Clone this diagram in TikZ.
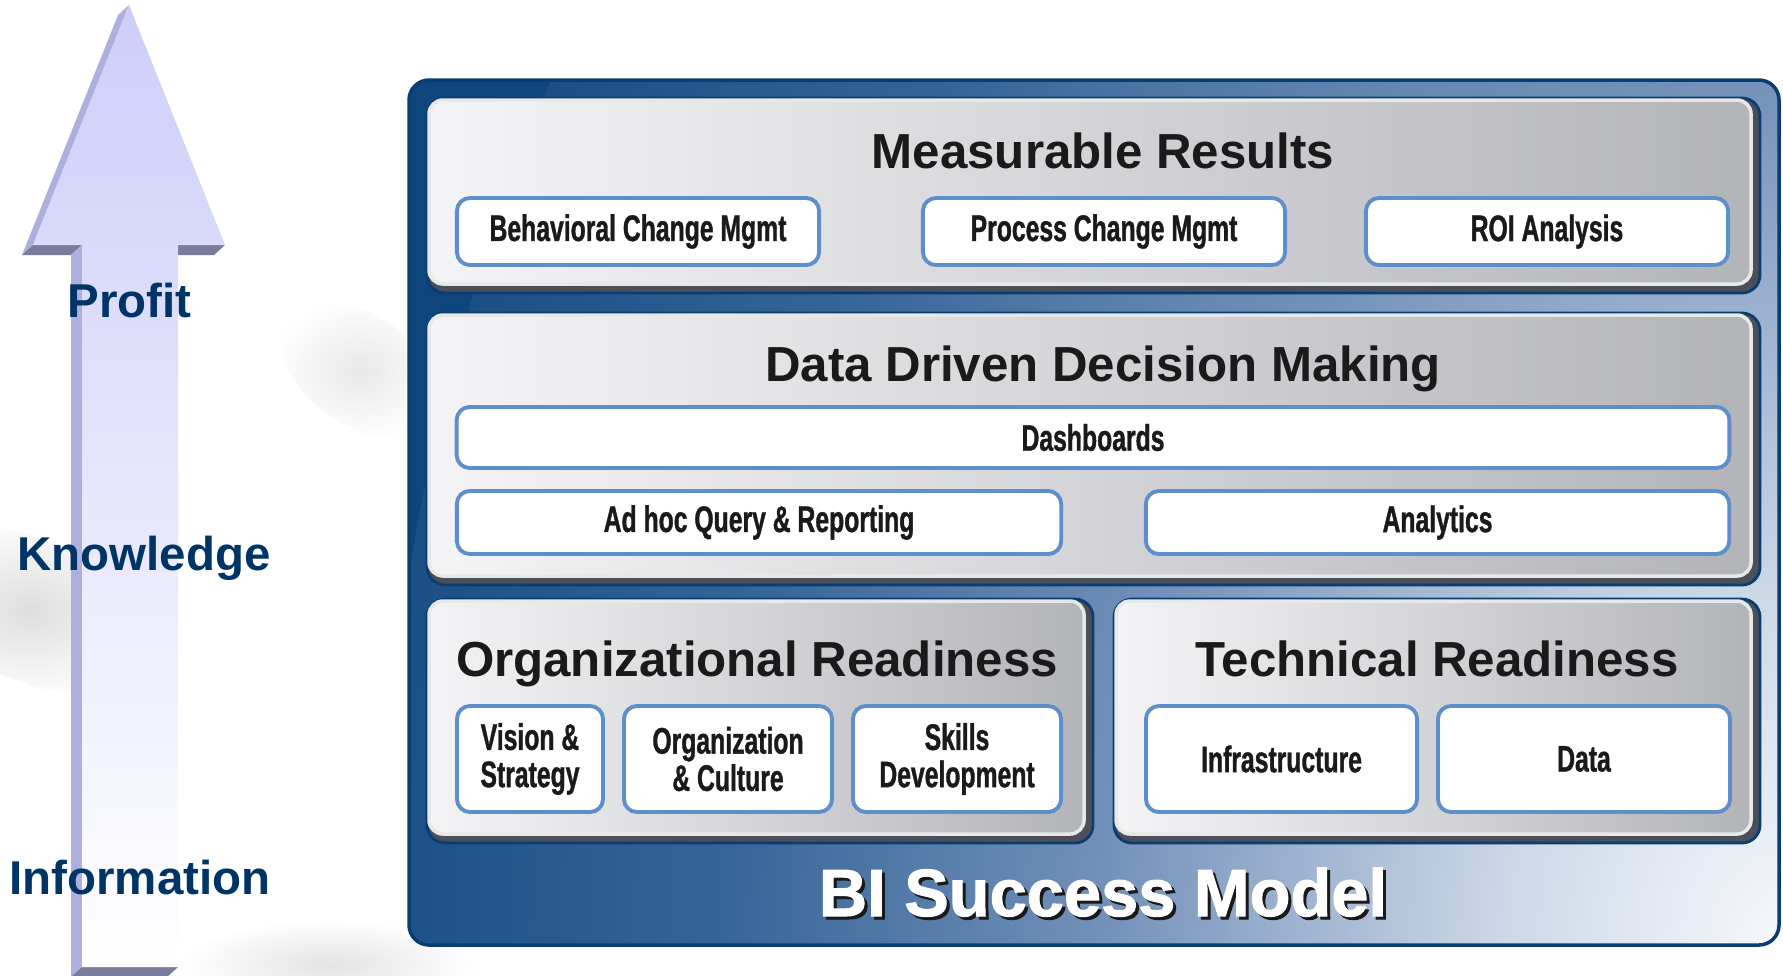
\documentclass[tikz,border=0pt]{standalone}
\usepackage{fontspec}
\setmainfont{Liberation Sans}
\newfontfamily\narrowfont[FakeStretch=0.67, FakeBold=1]{Liberation Sans}
\newfontfamily\heavyfont[FakeBold=1.5]{Liberation Sans}
\usetikzlibrary{calc}

\definecolor{navytext}{HTML}{003366}
\definecolor{framedark}{HTML}{0E457C}
\definecolor{framedeep}{HTML}{356497}
\definecolor{framemid}{HTML}{7391BA}
\definecolor{framepale}{HTML}{CBD7E7}
\definecolor{framelight}{HTML}{F6F8FB}
\definecolor{frameline}{HTML}{0A3D70}
\definecolor{rimgrey}{HTML}{4A4F5A}
\definecolor{facelight}{HTML}{F4F4F6}
\definecolor{facedark}{HTML}{B3B4B8}
\definecolor{boxline}{HTML}{5E8FCB}
\definecolor{arrowtop}{HTML}{CDCDF9}
\definecolor{arrowside}{HTML}{AFAFDF}
\definecolor{arrowshade}{HTML}{7B7B9B}
\definecolor{titletext}{HTML}{1A1A1A}

\pgfdeclareradialshading{framecorner}{\pgfpoint{0bp}{0bp}}{color(0bp)=(framelight); color(5bp)=(framepale); color(12bp)=(framemid); color(19bp)=(framedeep); color(28bp)=(framedark); color(50bp)=(framedark)}

\newcommand{\bipanel}[2]{%
	\draw[panelrim] #1 rectangle #2;
	\draw[panelface] ($#1+(2,2)$) rectangle ($#2+(-9,-9)$);
}

\begin{document}
\begin{tikzpicture}[
	x = 0.01cm, y = -0.01cm,
	every node/.style = {inner sep = 0pt},
	panelrim/.style = {draw = frameline, line width = 0.8pt, fill = rimgrey, rounded corners = 1.8mm},
	panelface/.style = {draw = white!82!gray, line width = 1pt, left color = facelight, right color = facedark, rounded corners = 1.4mm},
	itembox/.style = {draw = boxline, line width = 1.1pt, fill = white, rounded corners = 1.3mm, align = center,
		font = \narrowfont\bfseries\fontsize{10.5}{10.6}\selectfont, text = titletext},
	paneltitle/.style = {anchor = base, font = \bfseries\fontsize{14}{16}\selectfont, text = titletext},
	bititle/.style = {anchor = base, font = \heavyfont\bfseries\fontsize{19}{22}\selectfont},
	steplabel/.style = {font = \bfseries\fontsize{13.5}{16}\selectfont, text = navytext},
	]

	\useasboundingbox (0,0) rectangle (1783,975);

	\shade[inner color = black!13, outer color = white, rotate around = {-25:(30,610)}] (30,610) ellipse [x radius = 130, y radius = 70];
	\shade[inner color = black!9, outer color = white, rotate around = {-35:(360,370)}] (360,370) ellipse [x radius = 90, y radius = 55];
	\shade[inner color = black!11, outer color = white] (330,965) ellipse [x radius = 150, y radius = 45];

	\fill[arrowside] (129,5) -- (33,245) -- (22,255) -- (118,15) -- cycle;
	\fill[arrowshade] (33,245) -- (82,245) -- (71,255) -- (22,255) -- cycle;
	\fill[arrowside] (82,245) -- (82,967) -- (71,977) -- (71,255) -- cycle;
	\fill[arrowshade] (178,245) -- (225,245) -- (214,255) -- (167,255) -- cycle;
	\fill[arrowshade] (82,967) -- (178,967) -- (167,977) -- (71,977) -- cycle;
	\shade[top color = arrowtop, bottom color = white] (129,5) -- (225,245) -- (178,245) -- (178,967) -- (82,967) -- (82,245) -- (33,245) -- cycle;

	\node[steplabel] (profit) at (129.5,301) {Profit};
	\node[steplabel] (knowledge) at (144,558) {Knowledge};
	\node[steplabel] (information) at (140,878) {Information};

	\begin{scope}
		\clip[rounded corners = 2mm] (409,80) rectangle (1779,945);
		\fill[framedark] (409,80) rectangle (1779,945);
		\shade[shading = framecorner] (1779,945) ellipse [x radius = 1400, y radius = 1800];
	\end{scope}
	\draw[line width = 1pt, draw = frameline, rounded corners = 2mm] (409,80) rectangle (1779,945);

	\bipanel{(427,98)}{(1760,293)}
	\bipanel{(427,313)}{(1760,585)}
	\bipanel{(427,599)}{(1093,843)}
	\bipanel{(1114,599)}{(1760,843)}

	\node[paneltitle] (results) at (1103,168) {Measurable Results};
	\node[itembox, minimum width = 3.62cm, minimum height = 6.7mm] (behav) at (638,231.5) {Behavioral Change Mgmt};
	\node[itembox, minimum width = 3.62cm, minimum height = 6.7mm] (process) at (1104,231.5) {Process Change Mgmt};
	\node[itembox, minimum width = 3.62cm, minimum height = 6.7mm] (roi) at (1547,231.5) {ROI Analysis};

	\node[paneltitle] (decision) at (1103,381) {Data Driven Decision Making};
	\node[itembox, minimum width = 12.72cm, minimum height = 6.1mm] (dash) at (1093,437.5) {Dashboards};
	\node[itembox, minimum width = 6.04cm, minimum height = 6.3mm] (adhoc) at (759,522.5) {Ad hoc Query \& Reporting};
	\node[itembox, minimum width = 5.83cm, minimum height = 6.3mm] (analytics) at (1437.5,522.5) {Analytics};

	\node[paneltitle] (orgready) at (757,676) {Organizational Readiness};
	\node[itembox, minimum width = 1.46cm, minimum height = 10.6mm] (vision) at (530,759) {Vision \&\\Strategy};
	\node[itembox, minimum width = 2.08cm, minimum height = 10.6mm] (culture) at (728,759) {Organization\\\& Culture};
	\node[itembox, minimum width = 2.08cm, minimum height = 10.6mm] (skills) at (957,759) {Skills\\Development};

	\node[paneltitle] (techready) at (1437,676) {Technical Readiness};
	\node[itembox, minimum width = 2.71cm, minimum height = 10.6mm] (infra) at (1281.5,759) {Infrastructure};
	\node[itembox, minimum width = 2.92cm, minimum height = 10.6mm] (data) at (1584,759) {Data};

	\node[bititle, text = black!90] (bishadow) at (1106,919) {BI Success Model};
	\node[bititle, text = white] (bimodel) at (1103,916) {BI Success Model};

\end{tikzpicture}
\end{document}
